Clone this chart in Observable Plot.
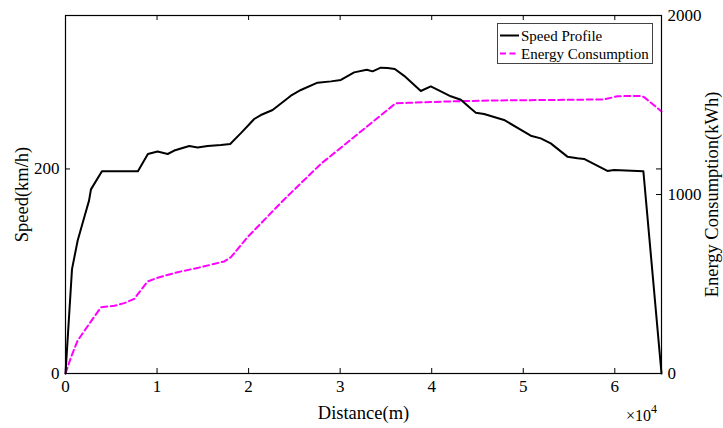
<!DOCTYPE html>
<html><head><meta charset="utf-8">
<script src="https://cdn.jsdelivr.net/npm/d3@7"></script>
<script src="https://cdn.jsdelivr.net/npm/@observablehq/plot@0.6"></script>
<style>
body{margin:0;background:#fff;}
#chart{position:relative;width:723px;height:428px;}
#legend{position:absolute;left:0;top:0;}
</style></head><body><div id="chart"></div>
<script>
// Speed profile (distance in m, speed in km/h)
const distanceSpeed = [0,710,1330,2050,2570,2780,3980,7910,9000,10060,11160,11880,12970,13520,14430,15520,16980,17990,19160,20180,20610,21340,22620,24620,25710,27530,29000,30080,31530,32910,33540,34440,35170,35970,36990,38810,39900,41000,42080,43180,44270,44820,45720,47900,50820,51910,53000,54820,55920,56640,59190,59910,63120,65100];
const speedKmh = [0,102,130,152.7,169,180,197.7,197.7,214.6,217,214.6,218,221,222.4,221,222.5,223.4,224.4,235,244.6,248.8,252.7,257.6,271.6,277.2,284.3,285.6,287,294.4,297,295.4,299,298.7,297.7,291,276.2,280.7,275.8,271,267.7,259,255,253.7,247.9,232.5,229.9,225,212,210.4,209.8,198,199,197.7,0];
// Energy consumption (distance in m, energy in kWh)
const distanceEnergy = [0,600,1330,2600,3880,5330,6420,7510,8970,10070,12250,14790,17340,18070,19890,23800,27890,36080,37360,42450,46450,58820,60280,62830,63190,65100];
const energyKWh = [0,91,184,278,370,378,393,417,514,535,566,594,626,650,762,968,1171,1510,1512,1521,1525,1531,1549,1551,1544,1464];

const xTicks = [0,10000,20000,30000,40000,50000,60000];
const speedTicks = [0,200];
const energyTicks = [0,1000,2000];
const seriesNames = ["Speed Profile","Energy Consumption"];
const axisLabels = {x:"Distance(m)", left:"Speed(km/h)", right:"Energy Consumption(kWh)"};

const speedMax = 350, energyMax = 2000;
const k = speedMax / energyMax;
const speedData = distanceSpeed.map((d,i)=>({x:d, y:speedKmh[i]}));
const energyData = distanceEnergy.map((d,i)=>({x:d, y:energyKWh[i]*k}));

const W = 723, H = 428, mL = 65, mR = 62, mT = 15, mB = 55;
const pw = W - mL - mR, ph = H - mT - mB;
const font = '"Liberation Serif","Times New Roman",serif';
const magenta = "#ff00ff";

const plot = Plot.plot({
  width: W, height: H,
  marginLeft: mL, marginRight: mR, marginTop: mT, marginBottom: mB,
  style: {fontFamily: font, fontSize: "17px", color: "#000", background: "#fff"},
  x: {domain: [0, 65100]},
  y: {domain: [0, speedMax]},
  marks: [
    Plot.line(energyData, {x:"x", y:"y", stroke: magenta, strokeWidth: 2, strokeDasharray: "6,3.5"}),
    Plot.line(speedData, {x:"x", y:"y", stroke: "#000", strokeWidth: 2}),
    Plot.frame({stroke: "#000", strokeWidth: 1.2}),
    Plot.tickX(xTicks, {x: d=>d, insetTop: ph-5, stroke:"#000"}),
    Plot.tickX(xTicks, {x: d=>d, insetBottom: ph-5, stroke:"#000"}),
    Plot.tickY(speedTicks, {y: d=>d, insetRight: pw-5, stroke:"#000"}),
    Plot.tickY(speedTicks, {y: d=>d, insetLeft: pw-5, stroke:"#000"}),
    Plot.tickY(energyTicks, {y: d=>d*k, insetLeft: pw-5, stroke:"#000"}),
    Plot.axisX({ticks: xTicks, tickSize: 0, tickPadding: 6, tickFormat: d => String(d/10000), label: null}),
    Plot.axisY({anchor: "left", ticks: speedTicks, tickSize: 0, tickPadding: 6, tickFormat: d => String(d), label: null}),
    Plot.axisY({anchor: "right", ticks: energyTicks.map(v=>v*k), tickSize: 0, tickPadding: 6, tickFormat: d => String(Math.round(d/k)), label: null}),
    Plot.text([axisLabels.x], {frameAnchor: "bottom", dy: 40, textAnchor: "middle", lineAnchor: "middle", fontSize: 18.5}),
    Plot.text([axisLabels.left], {frameAnchor: "left", dx: -43, textAnchor: "middle", rotate: -90, lineAnchor: "middle", fontSize: 18.5}),
    Plot.text([axisLabels.right], {frameAnchor: "right", dx: 51, textAnchor: "middle", rotate: -90, lineAnchor: "middle", fontSize: 18.5})
  ]
});
document.getElementById("chart").appendChild(plot);

// ×10^4 exponent label
const svg = d3.select(plot);
const expo = svg.append("text").attr("x", 626).attr("y", 421).attr("text-anchor", "start")
  .attr("font-family", font).attr("font-size", 16).attr("fill", "#000");
expo.append("tspan").text("×10");
expo.append("tspan").attr("dy", -8).attr("font-size", 12).text("4");

// Legend
const lg = d3.select("#chart").append("svg").attr("id","legend")
  .attr("width", W).attr("height", 80);
lg.append("rect").attr("x", 497.5).attr("y", 23.5).attr("width", 155).attr("height", 40)
  .attr("fill", "#fff").attr("stroke", "#444").attr("stroke-width", 1);
const rows = [
  {name: seriesNames[0], stroke: "#000", dash: null, y: 35.5},
  {name: seriesNames[1], stroke: magenta, dash: "6,3.5", y: 53.5}
];
rows.forEach(r => {
  lg.append("line").attr("x1", 500).attr("x2", 519).attr("y1", r.y).attr("y2", r.y)
    .attr("stroke", r.stroke).attr("stroke-width", 2).attr("stroke-dasharray", r.dash);
  lg.append("text").attr("x", 521).attr("y", r.y + 5).attr("font-family", font)
    .attr("font-size", 15).attr("fill", "#000").text(r.name);
});
</script>
</body></html>
